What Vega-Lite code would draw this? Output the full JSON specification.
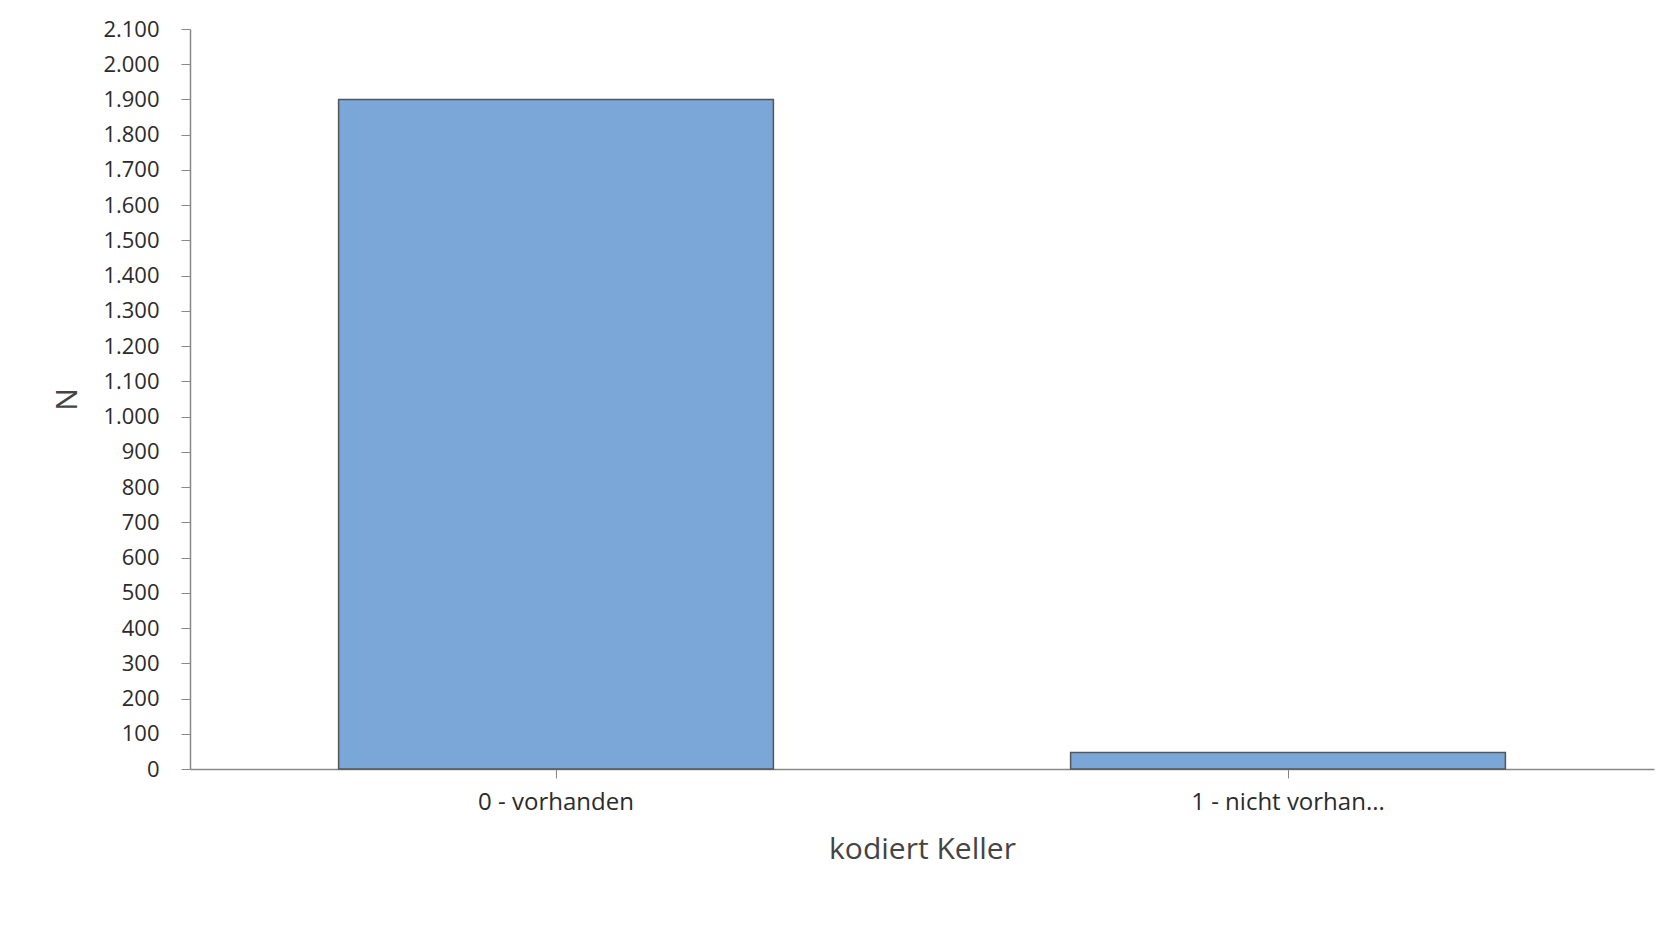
{
  "$schema": "https://vega.github.io/schema/vega-lite/v6.json",
  "autosize": "none",
  "width": 1464,
  "height": 740,
  "padding": {"left": 190, "top": 29, "right": 10, "bottom": 173},
  "background": "white",
  "config": {
    "locale": {"number": {"decimal": ",", "thousands": ".", "grouping": [3], "currency": ["", " €"]}},
    "view": {"stroke": null},
    "font": "Open Sans"
  },
  "data": {
    "values": [
      {"Keller": "0 - vorhanden", "N": 1900},
      {"Keller": "1 - nicht vorhan...", "N": 47}
    ]
  },
  "mark": {"type": "bar", "color": "#7BA6D8", "stroke": "#555555", "strokeWidth": 1.5},
  "encoding": {
    "x": {
      "field": "Keller",
      "type": "nominal",
      "sort": null,
      "title": "kodiert Keller",
      "scale": {"paddingInner": 0.406, "paddingOuter": 0.203},
      "axis": {
        "labelAngle": 0,
        "labelFontSize": 24,
        "labelLimit": 600,
        "labelColor": "#2b2b2b",
        "labelPadding": 12,
        "tickSize": 9,
        "tickColor": "#888888",
        "domainColor": "#888888",
        "domainWidth": 1.5,
        "titleFontSize": 30,
        "titleFontWeight": "normal",
        "titleColor": "#444444",
        "titlePadding": 20
      }
    },
    "y": {
      "field": "N",
      "type": "quantitative",
      "title": "N",
      "scale": {"domain": [0, 2100], "nice": false},
      "axis": {
        "values": [0, 100, 200, 300, 400, 500, 600, 700, 800, 900, 1000, 1100, 1200, 1300, 1400, 1500, 1600, 1700, 1800, 1900, 2000, 2100],
        "format": ",d",
        "grid": false,
        "labelFontSize": 22,
        "labelColor": "#2b2b2b",
        "labelPadding": 22,
        "tickSize": 9,
        "tickColor": "#888888",
        "domainColor": "#888888",
        "domainWidth": 1.5,
        "titleFontSize": 30,
        "titleFontWeight": "normal",
        "titleColor": "#444444",
        "titlePadding": 20
      }
    }
  }
}
